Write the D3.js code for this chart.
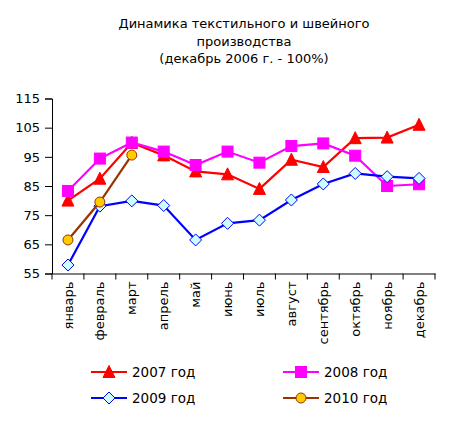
<!DOCTYPE html>
<html lang="ru">
<head>
<meta charset="UTF-8">
<script src="https://cdn.jsdelivr.net/npm/d3@7"></script>
<style>
  html, body { margin: 0; padding: 0; background: #fff; }
  svg { display: block; font-family: "DejaVu Sans", Verdana, sans-serif; }
</style>
</head>
<body>
<div id="chart"></div>
<script>
  const months = ['январь', 'февраль', 'март', 'апрель', 'май', 'июнь', 'июль',
                  'август', 'сентябрь', 'октябрь', 'ноябрь', 'декабрь'];
  const yTicks = [55, 65, 75, 85, 95, 105, 115];

  const v2007 = [80, 87.5, 99.8, 95.5, 90, 89, 84, 94, 91.5, 101.4, 101.6, 106];
  const v2008 = [83.3, 94.4, 99.9, 96.8, 92.2, 96.8, 93, 98.7, 99.6, 95.4, 85, 85.6];
  const v2009 = [57.9, 78.1, 79.9, 78.3, 66.5, 72.2, 73.3, 80.2, 85.7, 89.3, 88.2, 87.6];
  const v2010 = [66.5, 79.5, 95.6];

  const series = [
    { name: '2007 год', values: v2007, line: '#ff0000', fill: '#ff0000', stroke: '#ff0000', shape: 'triangle' },
    { name: '2008 год', values: v2008, line: '#ff00ff', fill: '#ff00ff', stroke: '#ff00ff', shape: 'square' },
    { name: '2009 год', values: v2009, line: '#0000ff', fill: '#ccffff', stroke: '#0000ff', shape: 'diamond' },
    { name: '2010 год', values: v2010, line: '#993300', fill: '#ffcc00', stroke: '#993300', shape: 'circle' }
  ];

  const width = 457, height = 429;
  const svg = d3.select('#chart').append('svg').attr('width', width).attr('height', height);

  const x = d3.scaleBand().domain(months).range([52, 435]);
  const y = d3.scaleLinear().domain([55, 115]).range([273.5, 98.5]);

  // title
  const title = ['Динамика текстильного и швейного', 'производства', '(декабрь 2006 г. - 100%)'];
  svg.append('g').selectAll('text').data(title).join('text')
    .attr('x', 244).attr('y', (d, i) => 28 + i * 17.5)
    .attr('text-anchor', 'middle').attr('font-size', 13).attr('fill', '#000')
    .text(d => d);

  // y axis
  const yAxis = svg.append('g').attr('transform', 'translate(52,0)')
    .call(d3.axisLeft(y).tickValues(yTicks).tickSize(7).tickPadding(5));
  yAxis.select('.domain').attr('stroke', '#000');
  yAxis.selectAll('.tick line').attr('stroke', '#000');
  yAxis.selectAll('text').attr('font-size', 13).attr('font-family', 'DejaVu Sans, sans-serif').attr('fill', '#000');

  // x axis
  const xAxis = svg.append('g').attr('transform', 'translate(0,273.5)')
    .call(d3.axisBottom(x).tickSize(0).tickSizeOuter(0));
  xAxis.select('.domain').attr('stroke', '#000');
  xAxis.selectAll('.tick text')
    .attr('font-size', 13).attr('font-family', 'DejaVu Sans, sans-serif').attr('fill', '#000')
    .attr('text-anchor', 'end')
    .attr('transform', 'rotate(-90)')
    .attr('x', -8).attr('y', 0).attr('dy', '0.35em');
  // category boundary ticks
  xAxis.selectAll('.bound').data(d3.range(months.length + 1)).join('line')
    .attr('class', 'bound')
    .attr('x1', i => 52 + i * x.step()).attr('x2', i => 52 + i * x.step())
    .attr('y1', 0).attr('y2', 6).attr('stroke', '#000');

  const cx = (d, i) => x(months[i]) + x.bandwidth() / 2;

  function marker(g, shape, fill, stroke) {
    if (shape === 'triangle') {
      g.append('path').attr('d', 'M0,-6.5L6,5.5L-6,5.5Z').attr('fill', fill).attr('stroke', stroke);
    } else if (shape === 'square') {
      g.append('rect').attr('x', -5.5).attr('y', -5.5).attr('width', 11).attr('height', 11)
        .attr('fill', fill).attr('stroke', stroke);
    } else if (shape === 'diamond') {
      g.append('path').attr('d', 'M0,-6L6,0L0,6L-6,0Z').attr('fill', fill).attr('stroke', stroke);
    } else {
      g.append('circle').attr('r', 5).attr('fill', fill).attr('stroke', stroke);
    }
  }

  const line = d3.line().x(cx).y(d => y(d));

  series.forEach(s => {
    const g = svg.append('g');
    g.append('path').datum(s.values).attr('d', line)
      .attr('fill', 'none').attr('stroke', s.line).attr('stroke-width', 2.2)
      .attr('stroke-linejoin', 'miter');
    g.selectAll('g').data(s.values).join('g')
      .attr('transform', (d, i) => `translate(${cx(d, i)},${y(d)})`)
      .each(function () { marker(d3.select(this), s.shape, s.fill, s.stroke); });
  });

  // legend
  const legendPos = [[91, 372], [283, 372], [91, 398], [283, 398]];
  series.forEach((s, i) => {
    const [lx, ly] = legendPos[i];
    const g = svg.append('g').attr('transform', `translate(${lx},${ly})`);
    g.append('line').attr('x1', 0).attr('x2', 36).attr('y1', 0).attr('y2', 0)
      .attr('stroke', s.line).attr('stroke-width', 2.2);
    const m = g.append('g').attr('transform', 'translate(18,0)');
    marker(m, s.shape, s.fill, s.stroke);
    g.append('text').attr('x', 41).attr('y', 0).attr('dy', '0.35em')
      .attr('font-size', 13.5).attr('fill', '#000').text(s.name);
  });
</script>
</body>
</html>
